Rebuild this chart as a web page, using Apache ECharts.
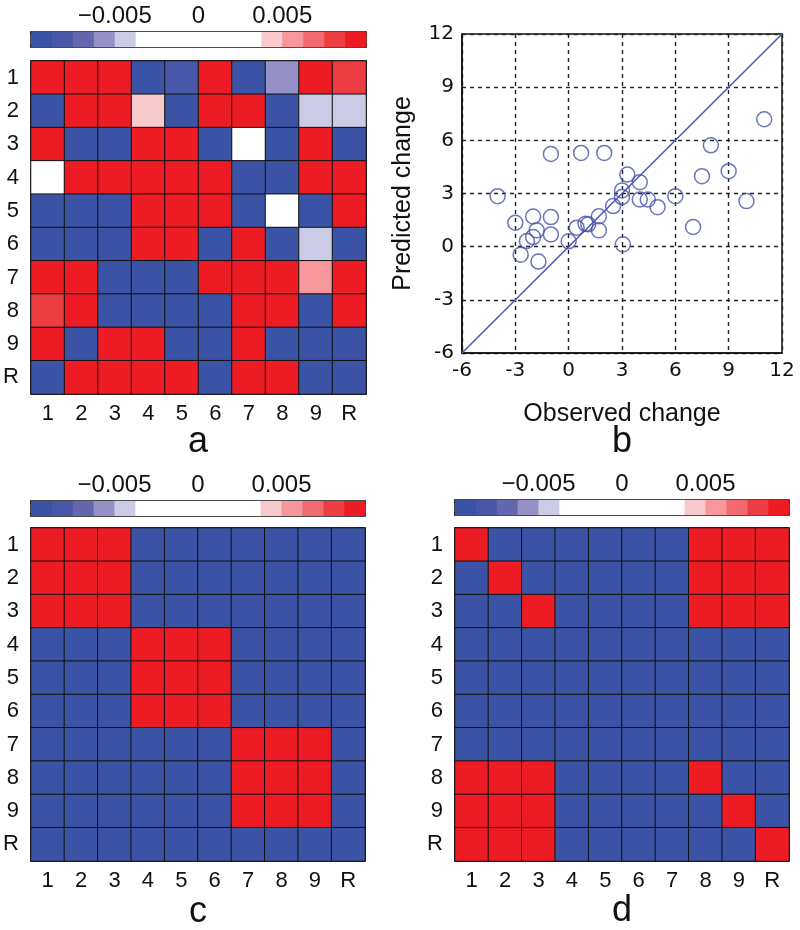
<!DOCTYPE html>
<html><head><meta charset="utf-8">
<script src="https://cdn.jsdelivr.net/npm/echarts@6/dist/echarts.min.js"></script>
<style>html,body{margin:0;padding:0;background:#fff}#c{width:800px;height:930px}</style>
</head><body><div id="c"></div>
<script>
// ---------- data ----------
const labels = ['1','2','3','4','5','6','7','8','9','R'];
const R = 0.0095, B = -0.0095;
const matA = [
  [R,R,R,B,-0.008,R,B,-0.0055,R,0.008],
  [B,R,R,0.0042,B,R,R,B,-0.0042,-0.0042],
  [R,B,B,R,R,B,0,B,R,B],
  [0,R,R,R,R,R,B,B,R,R],
  [B,B,B,R,R,R,B,0,B,R],
  [B,B,B,R,R,B,R,B,-0.0042,B],
  [R,R,B,B,B,R,R,R,0.0055,R],
  [0.008,R,B,B,B,B,R,R,B,R],
  [R,B,R,R,B,B,R,B,B,B],
  [B,R,R,R,R,B,R,R,B,B]
];
const matC = [
  [R,R,R,B,B,B,B,B,B,B],
  [R,R,R,B,B,B,B,B,B,B],
  [R,R,R,B,B,B,B,B,B,B],
  [B,B,B,R,R,R,B,B,B,B],
  [B,B,B,R,R,R,B,B,B,B],
  [B,B,B,R,R,R,B,B,B,B],
  [B,B,B,B,B,B,R,R,R,B],
  [B,B,B,B,B,B,R,R,R,B],
  [B,B,B,B,B,B,R,R,R,B],
  [B,B,B,B,B,B,B,B,B,B]
];
const matD = [
  [R,B,B,B,B,B,B,R,R,R],
  [B,R,B,B,B,B,B,R,R,R],
  [B,B,R,B,B,B,B,R,R,R],
  [B,B,B,B,B,B,B,B,B,B],
  [B,B,B,B,B,B,B,B,B,B],
  [B,B,B,B,B,B,B,B,B,B],
  [B,B,B,B,B,B,B,B,B,B],
  [R,R,R,B,B,B,B,R,B,B],
  [R,R,R,B,B,B,B,B,R,B],
  [R,R,R,B,B,B,B,B,B,R]
];
const cbEdges = [-0.01,-0.00875,-0.0075,-0.00625,-0.005,-0.00375,-0.0025,-0.00125,0,0.00125,0.0025,0.00375,0.005,0.00625,0.0075,0.00875,0.01];
const cbColors = ['#3a53a4','#4857a7','#6467ae','#9591c7','#cbcbe5','#ffffff','#ffffff','#ffffff','#ffffff','#ffffff','#ffffff','#f8c9cd','#f5979b','#f16a6f','#ee3d42','#ed1c24'];
const cbTicks = [-0.005, 0, 0.005];
const obsX = [-4.0,-3.0,-2.7,-2.35,-2.0,-1.8,-2.0,-1.7,-1.0,-1.0,-1.0,0.0,0.45,0.7,0.95,1.1,1.7,1.7,2.0,2.5,3.0,3.0,3.05,3.3,4.0,4.0,4.45,5.0,6.0,7.0,7.5,8.0,9.0,10.0,11.0];
const predY = [2.85,1.35,-0.45,0.32,0.54,0.92,1.7,-0.84,5.23,1.67,0.69,0.3,1.07,5.29,1.29,1.26,0.92,1.71,5.29,2.29,3.17,2.8,0.13,4.07,3.64,2.66,2.66,2.23,2.85,1.11,3.98,5.72,4.26,2.57,7.19];
const identityLine = [-6, 12];
const scatterTicks = {min: -6, max: 12, interval: 3};

// ---------- build ----------
const FONT = 'Liberation Sans';
const grids = [], xAxes = [], yAxes = [], series = [];

function heatmapPanel(mat, g, cbTop) {
  const gi = grids.length;
  grids.push({left: g.left, top: g.top, width: g.width, height: g.height, show: true, borderColor: '#000', borderWidth: 1.5, backgroundColor: 'transparent'});
  const xi = xAxes.length, yi = yAxes.length;
  xAxes.push({type: 'category', gridIndex: gi, data: labels, position: 'bottom',
    axisLine: {show: false}, axisTick: {show: false}, splitLine: {show: false},
    axisLabel: {fontFamily: FONT, fontSize: 22, color: '#111', margin: 9}});
  yAxes.push({type: 'category', gridIndex: gi, data: labels, inverse: true,
    axisLine: {show: false}, axisTick: {show: false}, splitLine: {show: false},
    axisLabel: {fontFamily: FONT, fontSize: 22, color: '#111', margin: 12}});
  const data = [];
  mat.forEach((row, r) => row.forEach((v, c) => data.push([c, r, v])));
  series.push({type: 'heatmap', xAxisIndex: xi, yAxisIndex: yi, data,
    itemStyle: {borderColor: '#111', borderWidth: 1}, emphasis: {disabled: true}, silent: true});
  // colorbar
  const ci = grids.length;
  grids.push({left: g.left, top: cbTop, width: g.width, height: 15});
  const cxTop = xAxes.length;
  const valAxis = (pos, showLabel) => ({type: 'value', gridIndex: ci, position: pos,
    min: cbEdges[0], max: cbEdges[cbEdges.length - 1], interval: 0.005,
    axisLine: {show: true, onZero: false, lineStyle: {color: '#111', width: 1.5}},
    axisTick: {show: true, inside: true, length: 3, lineStyle: {color: '#111', width: 1.5}},
    splitLine: {show: false},
    axisLabel: {show: showLabel, fontFamily: FONT, fontSize: 24, color: '#111', margin: 4,
      formatter: v => {
        const t = cbTicks.find(k => Math.abs(k - v) < 1e-9);
        if (t === undefined) return '';
        return t < 0 ? '\u2212' + Math.abs(t).toFixed(3) : (t === 0 ? '0' : t.toFixed(3));
      }}});
  xAxes.push(valAxis('top', true));
  xAxes.push(valAxis('bottom', false));
  const cyL = yAxes.length;
  const yv = pos => ({type: 'value', gridIndex: ci, position: pos, min: 0, max: 1,
    axisLine: {show: true, onZero: false, lineStyle: {color: '#111', width: 1.5}},
    axisTick: {show: false}, axisLabel: {show: false}, splitLine: {show: false}});
  yAxes.push(yv('left'));
  yAxes.push(yv('right'));
  const cbData = [];
  for (let i = 0; i < cbColors.length; i++) cbData.push([cbEdges[i], cbEdges[i + 1]]);
  series.push({type: 'custom', xAxisIndex: cxTop, yAxisIndex: cyL, data: cbData, silent: true, z: 1,
    renderItem: (params, api) => {
      const p0 = api.coord([api.value(0), 1]);
      const p1 = api.coord([api.value(1), 0]);
      return {type: 'rect', shape: {x: p0[0], y: p0[1], width: p1[0] - p0[0] + 0.5, height: p1[1] - p0[1]},
        style: {fill: cbColors[params.dataIndex]}};
    }});
}

heatmapPanel(matA, {left: 31, top: 61, width: 335, height: 333}, 32);

// scatter panel b
const sg = grids.length;
grids.push({left: 462, top: 34, width: 320, height: 319, show: true, borderColor: '#111', borderWidth: 1.5, backgroundColor: 'transparent'});
const sx = xAxes.length, sy = yAxes.length;
const dashed = {show: true, lineStyle: {color: '#222', width: 1.4, type: [4, 4]}};
xAxes.push({type: 'value', gridIndex: sg, ...scatterTicks, name: 'Observed change', nameLocation: 'middle', nameGap: 49,
  nameTextStyle: {fontFamily: FONT, fontSize: 25, color: '#111'},
  axisLine: {show: true, onZero: false, lineStyle: {color: '#111', width: 1.5}},
  axisTick: {show: false}, splitLine: dashed,
  axisLabel: {fontFamily: 'DejaVu Sans', fontSize: 20, color: '#111', margin: 8}});
yAxes.push({type: 'value', gridIndex: sg, ...scatterTicks, name: 'Predicted change', nameLocation: 'middle', nameGap: 46,
  nameTextStyle: {fontFamily: FONT, fontSize: 25, color: '#111'},
  axisLine: {show: true, onZero: false, lineStyle: {color: '#111', width: 1.5}},
  axisTick: {show: false}, splitLine: dashed,
  axisLabel: {fontFamily: 'DejaVu Sans', fontSize: 20, color: '#111', margin: 8}});
series.push({type: 'line', xAxisIndex: sx, yAxisIndex: sy, data: identityLine.map(v => [v, v]),
  symbol: 'none', lineStyle: {color: '#4a58a8', width: 1.5}, silent: true, z: 3});
series.push({type: 'scatter', xAxisIndex: sx, yAxisIndex: sy, data: obsX.map((x, i) => [x, predY[i]]),
  symbol: 'circle', symbolSize: 15, silent: true, z: 4,
  itemStyle: {color: 'rgba(0,0,0,0)', borderColor: '#4652a8', borderWidth: 1.5}});

heatmapPanel(matC, {left: 31, top: 528, width: 334, height: 333}, 501);
heatmapPanel(matD, {left: 455, top: 528, width: 334, height: 333}, 500);

const heatIdx = series.map((s, i) => s.type === 'heatmap' ? i : -1).filter(i => i >= 0);
const pieces = cbColors.map((c, i) => ({min: cbEdges[i], max: cbEdges[i + 1], color: c}));

const letter = (t, x, y) => ({type: 'text', x, y, style: {text: t, fontFamily: FONT, fontSize: 36, fill: '#111', textAlign: 'center', textVerticalAlign: 'middle'}});

const chart = echarts.init(document.getElementById('c'), null, {renderer: 'canvas'});
chart.setOption({
  animation: false,
  backgroundColor: '#fff',
  grid: grids, xAxis: xAxes, yAxis: yAxes,
  visualMap: {type: 'piecewise', show: false, seriesIndex: heatIdx, dimension: 2, pieces},
  series,
  graphic: [letter('a', 198, 442), letter('b', 622, 442), letter('c', 198, 912), letter('d', 622, 911)]
});
</script></body></html>
